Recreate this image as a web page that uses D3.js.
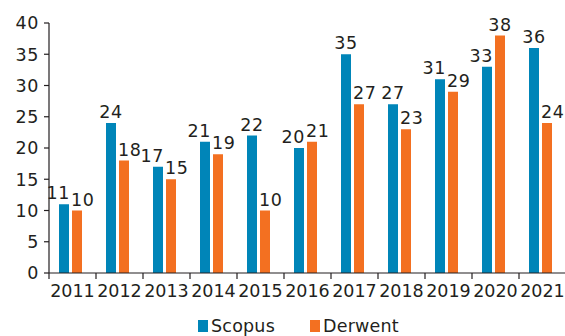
<!DOCTYPE html>
<html>
<head>
<meta charset="utf-8">
<script src="https://cdn.jsdelivr.net/npm/d3@7"></script>
<style>
  html, body { margin: 0; padding: 0; background: #fff; }
  svg text { font-family: "DejaVu Sans", sans-serif; fill: #231f20; }
</style>
</head>
<body>
<svg id="chart" width="565" height="336"></svg>
<script>
// Publications per year, two sources
const years = ["2011","2012","2013","2014","2015","2016","2017","2018","2019","2020","2021"];
const scopus = [11, 24, 17, 21, 22, 20, 35, 27, 31, 33, 36];
const derwent = [10, 18, 15, 19, 10, 21, 27, 23, 29, 38, 24];
const seriesNames = ["Scopus", "Derwent"];
const seriesColors = ["#0085b8", "#f37021"];
const yTicks = [0, 5, 10, 15, 20, 25, 30, 35, 40];

const svg = d3.select("#chart");
const plot = { left: 49, right: 566, top: 23, bottom: 273 };
const fontSize = 17.5;

const x = d3.scaleBand().domain(years).range([plot.left, plot.right]).padding(0);
const bw = x.bandwidth();
const x1 = d3.scaleBand().domain(seriesNames)
  .range([bw * 10 / 47, bw * 33 / 47]).paddingInner(3 / 13).paddingOuter(0);
const y = d3.scaleLinear().domain([0, 40]).range([plot.bottom, plot.top]);
const color = d3.scaleOrdinal().domain(seriesNames).range(seriesColors);

const rows = years.map((yr, i) => ({ year: yr, Scopus: scopus[i], Derwent: derwent[i] }));

// Bars
const groups = svg.append("g").selectAll("g").data(rows).join("g")
  .attr("transform", d => `translate(${x(d.year)},0)`);

groups.selectAll("rect")
  .data(d => seriesNames.map(s => ({ key: s, value: d[s], row: d })))
  .join("rect")
  .attr("x", d => x1(d.key))
  .attr("width", x1.bandwidth())
  .attr("y", d => y(d.value))
  .attr("height", d => y(0) - y(d.value))
  .attr("fill", d => color(d.key));

// Value labels: nudged aside when the neighbouring bar is about as tall
groups.selectAll("text.val")
  .data(d => seriesNames.map(s => ({ key: s, value: d[s], row: d })))
  .join("text")
  .attr("class", "val")
  .attr("font-size", fontSize)
  .attr("letter-spacing", 0.6)
  .each(function(d) {
    const bx = x1(d.key), w = x1.bandwidth();
    const s = d.row.Scopus, dv = d.row.Derwent;
    let anchor = "middle", tx = bx + w / 2;
    if (d.key === "Scopus" && dv >= s - 2) { anchor = "end"; tx = bx + w + 1; }
    if (d.key === "Derwent" && dv <= s + 3) { anchor = "start"; tx = bx - 1; }
    d3.select(this).attr("text-anchor", anchor).attr("x", tx).attr("y", y(d.value) - 5);
  })
  .text(d => d.value);

// Y axis
const yAxis = svg.append("g");
yAxis.append("line").attr("x1", plot.left).attr("x2", plot.left).attr("y1", plot.bottom).attr("y2", plot.top)
  .attr("stroke", "#231f20").attr("stroke-width", 1.2);
yAxis.selectAll("line.tick").data(yTicks).join("line").attr("class", "tick")
  .attr("x1", plot.left - 5).attr("x2", plot.left).attr("y1", d => y(d)).attr("y2", d => y(d))
  .attr("stroke", "#231f20").attr("stroke-width", 1.2);
yAxis.selectAll("text").data(yTicks).join("text")
  .attr("x", plot.left - 10).attr("y", d => y(d)).attr("dy", "0.36em")
  .attr("text-anchor", "end").attr("font-size", fontSize).attr("letter-spacing", 0.6)
  .text(d => d);

// X axis with ticks on category boundaries
const xAxis = svg.append("g");
xAxis.append("line").attr("x1", plot.left).attr("x2", plot.right).attr("y1", plot.bottom).attr("y2", plot.bottom)
  .attr("stroke", "#231f20").attr("stroke-width", 1.2);
xAxis.selectAll("line.tick").data(years).join("line").attr("class", "tick")
  .attr("x1", d => x(d)).attr("x2", d => x(d)).attr("y1", plot.bottom).attr("y2", plot.bottom + 6)
  .attr("stroke", "#231f20").attr("stroke-width", 1.2);
xAxis.selectAll("text").data(years).join("text")
  .attr("x", d => x(d) + bw / 2).attr("y", plot.bottom + 24)
  .attr("text-anchor", "middle").attr("font-size", fontSize).attr("letter-spacing", 0)
  .text(d => d);

// Legend
const legendX = [198, 310];
const legend = svg.append("g").selectAll("g").data(seriesNames).join("g")
  .attr("transform", (d, i) => `translate(${legendX[i]},320)`);
legend.append("rect").attr("width", 10).attr("height", 12).attr("fill", d => color(d));
legend.append("text").attr("x", 13).attr("y", 12).attr("font-size", fontSize).attr("letter-spacing", 0.2)
  .text(d => d);
</script>
</body>
</html>
